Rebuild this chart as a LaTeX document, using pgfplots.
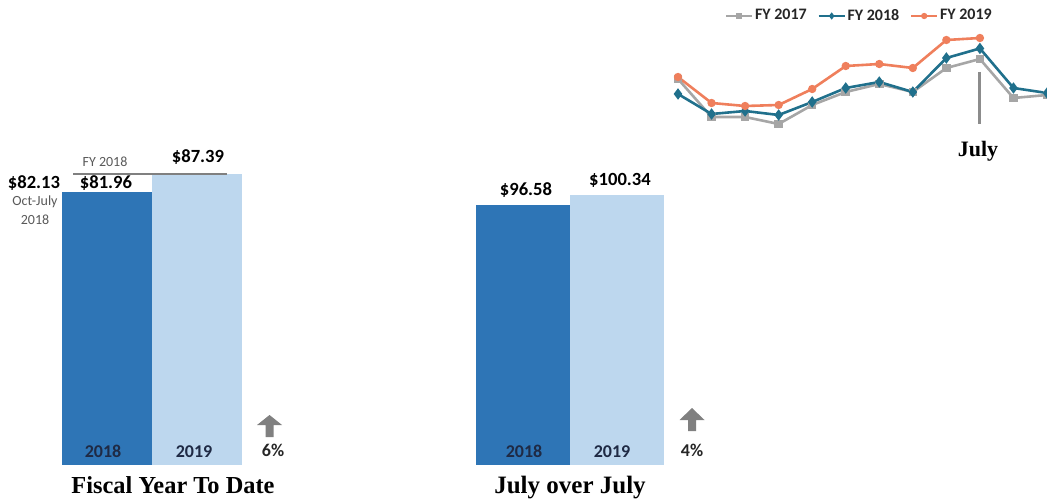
\documentclass[border=0pt]{standalone}
\usepackage{pgfplots}
\pgfplotsset{compat=1.18}
\usepackage{fontspec}
\setmainfont{Liberation Serif}
\newfontfamily\carlito{Carlito}
\definecolor{darkblue}{HTML}{2E75B6}
\definecolor{lightblue}{HTML}{BDD7EE}
\definecolor{navy}{HTML}{1F2A44}
\definecolor{teal18}{HTML}{20708C}
\definecolor{orange19}{HTML}{EF7F5C}
\definecolor{gray17}{HTML}{A6A6A6}
\definecolor{markgray}{HTML}{8C8C8C}
\definecolor{arrowgray}{HTML}{808080}
\definecolor{txtgray}{HTML}{595959}
\definecolor{dtext}{HTML}{262626}
\begin{document}
\begin{tikzpicture}
\useasboundingbox (0,0) rectangle (523.5pt,251.5pt);
% ---------------- left bars: Fiscal Year To Date
\begin{axis}[at={(31pt,19pt)}, anchor=south west, scale only axis,
  width=90pt, height=166.5pt, xmin=-0.5, xmax=1.5, ymin=0, ymax=100,
  hide axis, clip=false]
\addplot[ybar, bar width=45pt, bar shift=0pt, fill=darkblue, draw=none] coordinates {(0,81.96)};
\addplot[ybar, bar width=45pt, bar shift=0pt, fill=lightblue, draw=none] coordinates {(1,87.39)};
\end{axis}
% ---------------- middle bars: July over July
\begin{axis}[at={(238pt,19pt)}, anchor=south west, scale only axis,
  width=94pt, height=161.5pt, xmin=-0.5, xmax=1.5, ymin=0, ymax=120,
  hide axis, clip=false]
\addplot[ybar, bar width=47pt, bar shift=0pt, fill=darkblue, draw=none] coordinates {(0,96.58)};
\addplot[ybar, bar width=47pt, bar shift=0pt, fill=lightblue, draw=none] coordinates {(1,100.34)};
\end{axis}
% ---------------- line chart
\begin{axis}[at={(339pt,186.5pt)}, anchor=south west, scale only axis,
  width=184.5pt, height=50pt, xmin=0, xmax=11, ymin=67.22, ymax=103.22,
  hide axis, clip=false,
  legend columns=3,
  legend style={at={(0.127,1.14)}, anchor=west, draw=none, fill=none,
    inner sep=0pt, font=\carlito\bfseries\fontsize{8}{9}\selectfont, text=dtext,
    /tikz/every even column/.append style={column sep=4.5pt},
    nodes={inner sep=1pt}},
  legend image code/.code={\draw[mark repeat=2,mark phase=2,#1,line width=0.9pt,mark size=1.1pt] plot coordinates {(0pt,0pt) (6.5pt,0pt) (13pt,0pt)};}]
\addplot[color=gray17, line width=1.3pt, mark=square*, mark size=1.5pt] coordinates {
 (0,85.58) (1,71.90) (2,71.90) (3,69.38) (4,76.22) (5,80.90) (6,83.78) (7,80.90) (8,89.54) (9,92.78) (10,78.74) (11,79.82)};
\addlegendentry{FY 2017}
\addplot[color=teal18, line width=1.3pt, mark=diamond*, mark size=1.8pt] coordinates {
 (0,80.18) (1,72.98) (2,74.06) (3,72.62) (4,77.30) (5,82.34) (6,84.50) (7,80.90) (8,93.14) (9,96.58) (10,82.34) (11,80.54)};
\addlegendentry{FY 2018}
\addplot[color=orange19, line width=1.3pt, mark=*, mark size=1.4pt] coordinates {
 (0,86.30) (1,76.94) (2,75.86) (3,76.22) (4,81.98) (5,90.26) (6,90.98) (7,89.54) (8,99.62) (9,100.34)};
\addlegendentry{FY 2019}
\addplot[color=markgray, line width=1.5pt, forget plot] coordinates {(9,88.10) (9,69.38)};
\end{axis}
% ---------------- texts (pixel coordinates of the reference)
\begin{scope}[x=0.5pt, y=-0.5pt, shift={(0pt,251.5pt)}]
\begin{scope}[every node/.style={inner sep=0pt, anchor=base}]
\node[font=\carlito\bfseries\fontsize{9.3}{10}\selectfont] at (34,189) {\$82.13};
\node[font=\carlito\bfseries\fontsize{9.3}{10}\selectfont] at (106,189) {\$81.96};
\node[font=\carlito\bfseries\fontsize{9.3}{10}\selectfont] at (198,163) {\$87.39};
\node[font=\carlito\fontsize{7}{8}\selectfont, text=txtgray] at (35,206) {Oct-July};
\node[font=\carlito\fontsize{7}{8}\selectfont, text=txtgray] at (35,225) {2018};
\node[font=\carlito\fontsize{7}{8}\selectfont, text=txtgray] at (105,167) {FY 2018};
\node[font=\carlito\bfseries\fontsize{9}{10}\selectfont, text=navy] at (103,457) {2018};
\node[font=\carlito\bfseries\fontsize{9}{10}\selectfont, text=navy] at (194,457) {2019};
\node[font=\carlito\bfseries\fontsize{9}{10}\selectfont, text=dtext] at (273,456) {6\%};
\node[font=\bfseries\fontsize{12.2}{13}\selectfont] at (173,493) {Fiscal Year To Date};
\node[font=\carlito\bfseries\fontsize{9.3}{10}\selectfont] at (526,196) {\$96.58};
\node[font=\carlito\bfseries\fontsize{9.3}{10}\selectfont] at (620,186) {\$100.34};
\node[font=\carlito\bfseries\fontsize{9}{10}\selectfont, text=navy] at (524,457) {2018};
\node[font=\carlito\bfseries\fontsize{9}{10}\selectfont, text=navy] at (612,457) {2019};
\node[font=\carlito\bfseries\fontsize{9}{10}\selectfont, text=dtext] at (692,456) {4\%};
\node[font=\bfseries\fontsize{12.5}{13}\selectfont] at (570,493) {July over July};
\node[font=\bfseries\fontsize{11}{12}\selectfont] at (978,157) {July};
\end{scope}
\draw[color=arrowgray, line width=1pt] (73,174) -- (227,174);
\fill[arrowgray] (269.5,415) -- (282,425) -- (273.5,425) -- (273.5,437) -- (265.5,437) -- (265.5,425) -- (257,425) -- cycle;
\fill[arrowgray] (692,408) -- (704.5,420) -- (696,420) -- (696,431) -- (688,431) -- (688,420) -- (679.5,420) -- cycle;
\end{scope}
\end{tikzpicture}
\end{document}
